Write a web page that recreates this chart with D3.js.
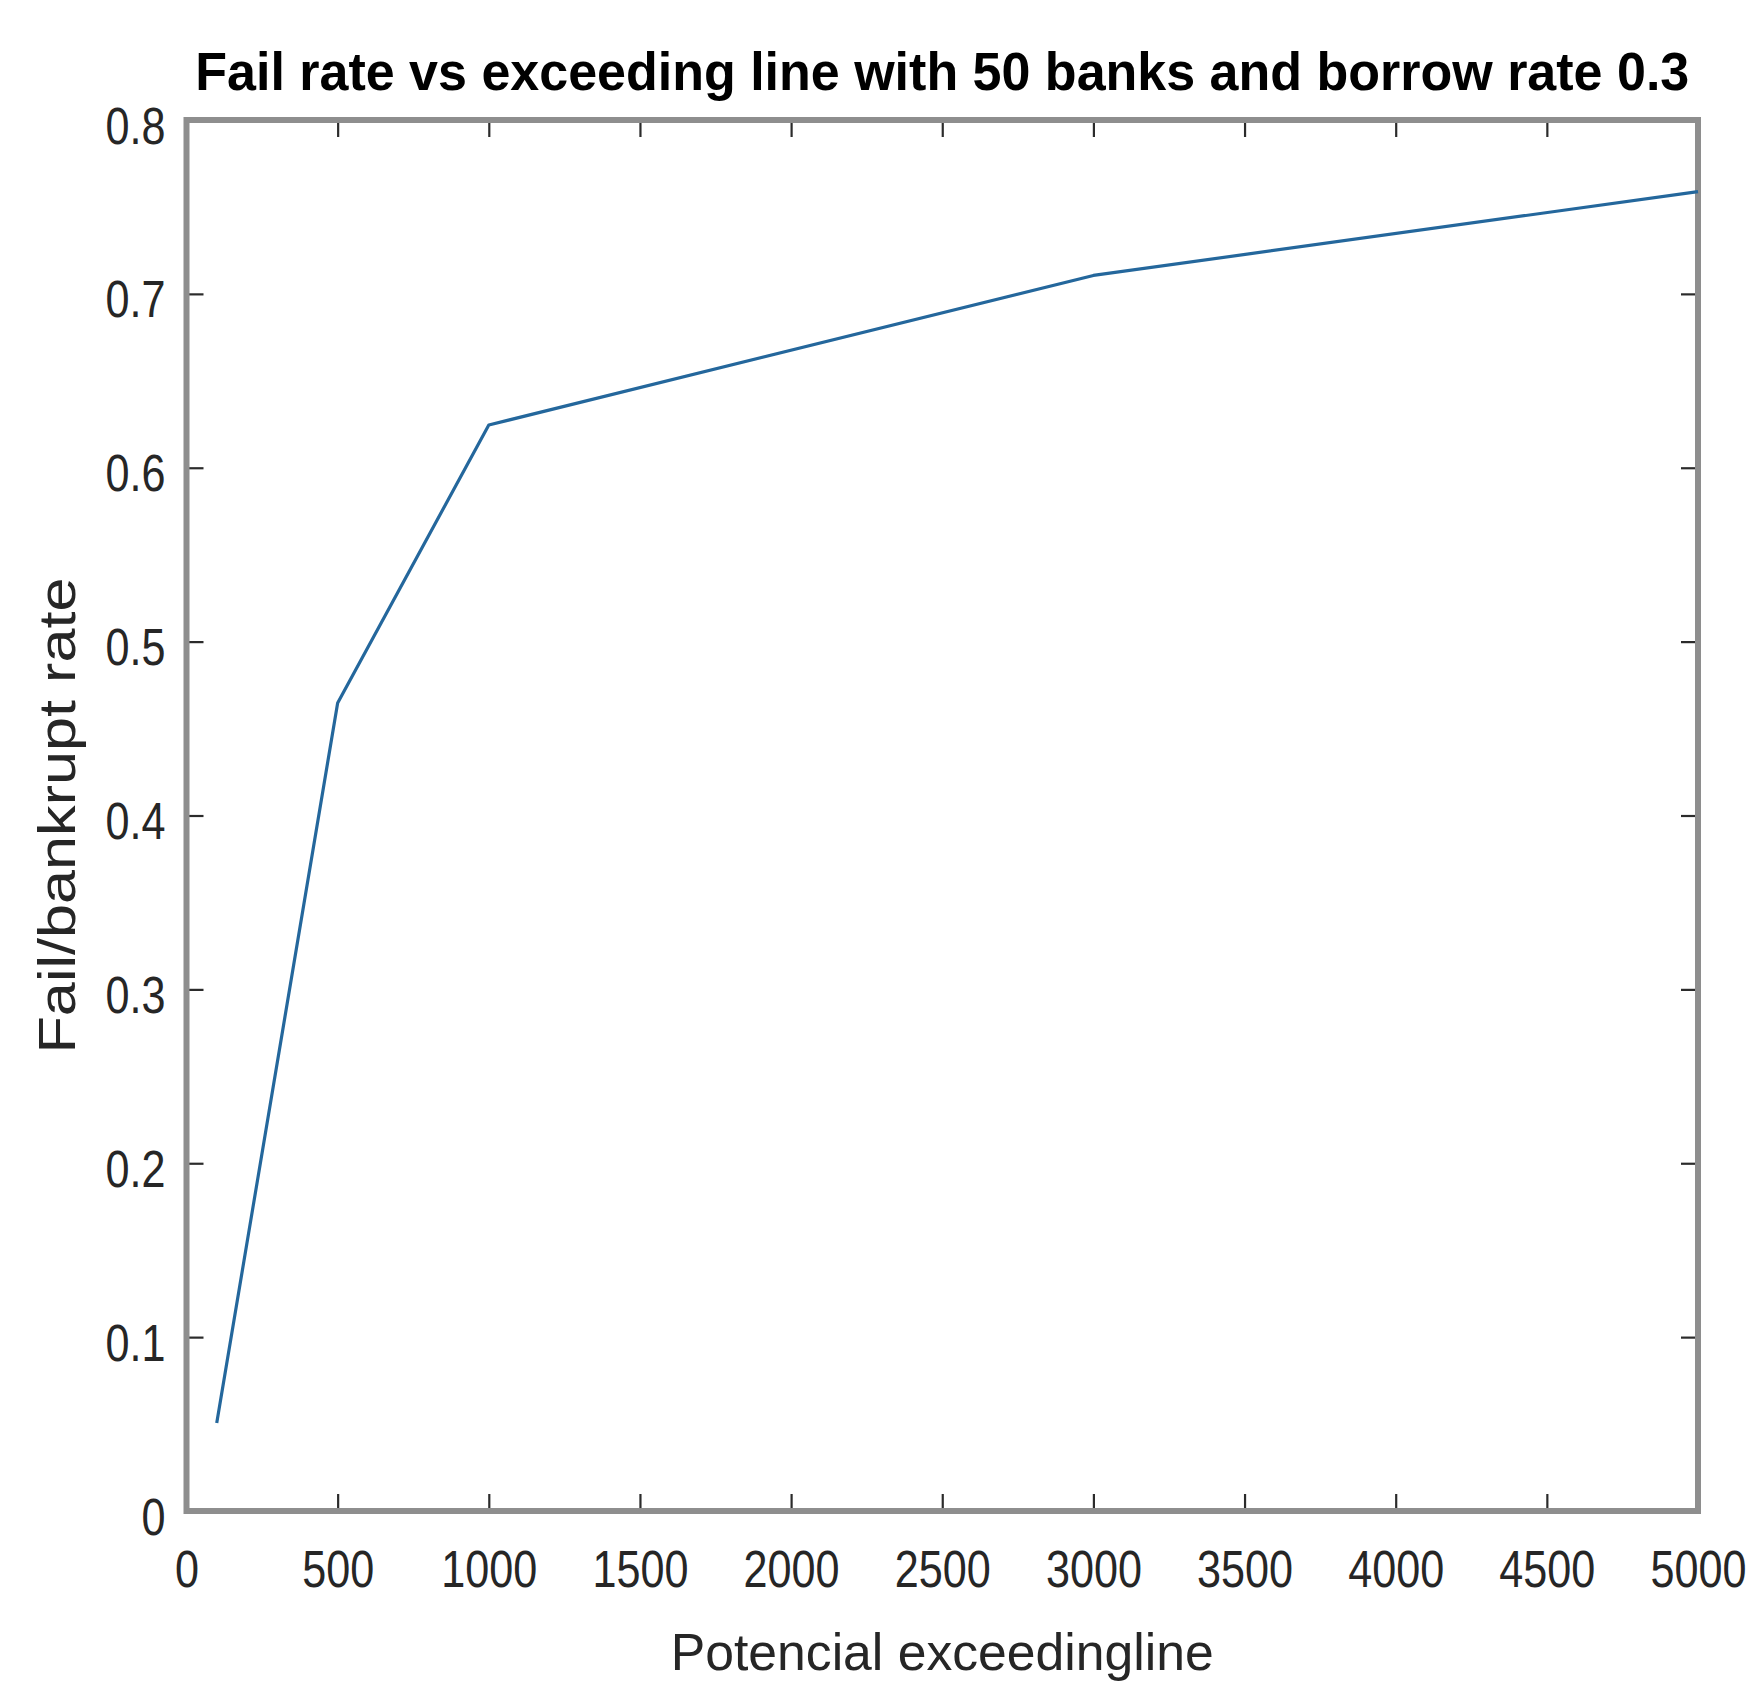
<!DOCTYPE html>
<html>
<head>
<meta charset="utf-8">
<script src="https://cdn.jsdelivr.net/npm/d3@7"></script>
<style>
  html, body { margin: 0; padding: 0; background: #fff; }
  svg { display: block; }
  text { font-family: "Liberation Sans", Arial, Helvetica, sans-serif; }
</style>
</head>
<body>
<svg id="chart" width="1755" height="1683"></svg>
<script>
// Simulation results: fail/bankrupt rate per potential exceeding line
const exceedingLine = [100, 500, 1000, 3000, 5000];
const failRate = [0.0506, 0.4647, 0.6246, 0.7106, 0.7588];

const xTickValues = [0, 500, 1000, 1500, 2000, 2500, 3000, 3500, 4000, 4500, 5000];
const yTickValues = [0, 0.1, 0.2, 0.3, 0.4, 0.5, 0.6, 0.7, 0.8];

const titleText = "Fail rate vs exceeding line with 50 banks and borrow rate 0.3";
const xLabelText = "Potencial exceedingline";
const yLabelText = "Fail/bankrupt rate";

const W = 1755, H = 1683;
const plot = { left: 186.5, right: 1698, top: 120, bottom: 1511 };
const fontSize = 52;
const squeeze = 0.83;   // narrow face used for the axis labels
const tickLen = 17;

const svg = d3.select("#chart");

const x = d3.scaleLinear().domain([0, 5000]).range([plot.left, plot.right]);
const y = d3.scaleLinear().domain([0, 0.8]).range([plot.bottom, plot.top]);

// Axes: ticks point into the plot on all four sides
function styleAxis(g) {
  g.select(".domain").remove();
  g.selectAll(".tick line").attr("stroke", "#2b2b2b").attr("stroke-width", 2.2);
}

const fmtY = d => d === 0 ? "0" : d3.format(".1f")(d);

const gBottom = svg.append("g")
  .attr("transform", `translate(0,${plot.bottom})`)
  .call(d3.axisBottom(x).tickValues(xTickValues).tickSize(-tickLen).tickFormat(d3.format("d")))
  .call(styleAxis);
gBottom.selectAll(".tick text")
  .attr("dy", null)
  .attr("y", 76)
  .attr("transform", `scale(${squeeze},1)`)
  .attr("fill", "#262626")
  .style("font-size", fontSize + "px");

svg.append("g")
  .attr("transform", `translate(0,${plot.top})`)
  .call(d3.axisTop(x).tickValues(xTickValues).tickSize(-tickLen).tickFormat(""))
  .call(styleAxis);

const gLeft = svg.append("g")
  .attr("transform", `translate(${plot.left},0)`)
  .call(d3.axisLeft(y).tickValues(yTickValues).tickSize(-tickLen).tickFormat(fmtY))
  .call(styleAxis);
gLeft.selectAll(".tick text")
  .attr("dy", null)
  .attr("y", 23)
  .attr("x", -21 / squeeze)
  .attr("transform", `scale(${squeeze},1)`)
  .attr("text-anchor", "end")
  .attr("fill", "#262626")
  .style("font-size", fontSize + "px");

svg.append("g")
  .attr("transform", `translate(${plot.right},0)`)
  .call(d3.axisRight(y).tickValues(yTickValues).tickSize(-tickLen).tickFormat(""))
  .call(styleAxis);

svg.selectAll(".tick text").attr("font-family", null);
svg.selectAll("g").attr("font-family", null).attr("font-size", null);

// Box around the plot area
svg.append("rect")
  .attr("x", plot.left)
  .attr("y", plot.top)
  .attr("width", plot.right - plot.left)
  .attr("height", plot.bottom - plot.top)
  .attr("fill", "none")
  .attr("stroke", "#8e8e8e")
  .attr("stroke-width", 6);

// Data line
const line = d3.line()
  .x((d, i) => x(exceedingLine[i]))
  .y(d => y(d));

svg.append("path")
  .datum(failRate)
  .attr("d", line)
  .attr("fill", "none")
  .attr("stroke", "#24679c")
  .attr("stroke-width", 3.2)
  .attr("stroke-linejoin", "round");

// Title and axis labels
svg.append("text")
  .attr("x", (plot.left + plot.right) / 2)
  .attr("y", 90)
  .attr("text-anchor", "middle")
  .attr("font-weight", "bold")
  .attr("fill", "#000")
  .attr("textLength", 1494)
  .attr("lengthAdjust", "spacingAndGlyphs")
  .style("font-size", "53px")
  .text(titleText);

svg.append("text")
  .attr("x", (plot.left + plot.right) / 2)
  .attr("y", 1670)
  .attr("text-anchor", "middle")
  .attr("fill", "#262626")
  .attr("textLength", 543)
  .attr("lengthAdjust", "spacingAndGlyphs")
  .style("font-size", fontSize + "px")
  .text(xLabelText);

svg.append("text")
  .attr("transform", `translate(75,${(plot.top + plot.bottom) / 2}) rotate(-90)`)
  .attr("text-anchor", "middle")
  .attr("fill", "#262626")
  .attr("textLength", 476)
  .attr("lengthAdjust", "spacingAndGlyphs")
  .style("font-size", fontSize + "px")
  .text(yLabelText);
</script>
</body>
</html>
